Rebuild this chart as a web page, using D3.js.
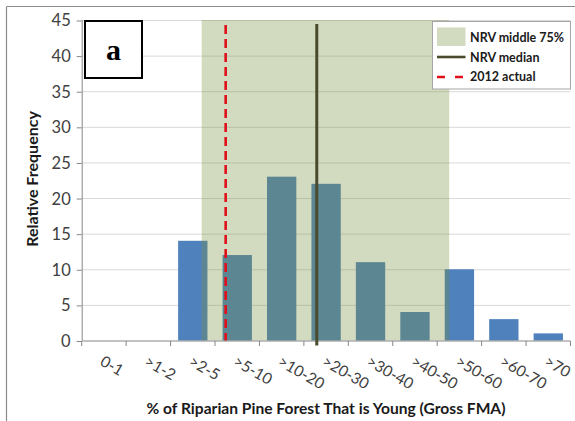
<!DOCTYPE html>
<html>
<head>
<meta charset="utf-8">
<script src="https://cdn.jsdelivr.net/npm/d3@7"></script>
<style>
  html, body { margin: 0; padding: 0; background: #fff; }
  svg { display: block; font-family: Lato, "Open Sans", sans-serif; }
</style>
</head>
<body>
<div id="chart"></div>
<script>
// Histogram categories (% of riparian pine forest that is young)
const categories = ["0-1", ">1-2", ">2-5", ">5-10", ">10-20", ">20-30", ">30-40", ">40-50", ">50-60", ">60-70", ">70"];
// Relative frequency of each class
const frequencies = [0, 0, 14, 12, 23, 22, 11, 4, 10, 3, 1];
// Y axis ticks
const yTicks = [0, 5, 10, 15, 20, 25, 30, 35, 40, 45];
// Reference markers, expressed in class-index units along the x axis
const nrvMiddle75 = [2.70, 8.27];
const nrvMedian = [5.29];
const actual2012 = [3.24];
// Legend entries
const legendItems = ["NRV middle 75%", "NRV median", "2012 actual"];

const W = 575, H = 421;
const margin = { left: 81.7, right: 4.5, top: 20, bottom: 80.5 };
const plotW = W - margin.left - margin.right;
const plotH = H - margin.top - margin.bottom;

const svg = d3.select("#chart").append("svg").attr("width", W).attr("height", H);

// outer frame (top and left edges)
svg.append("line").attr("x1", 6.5).attr("x2", W).attr("y1", 6.5).attr("y2", 6.5)
  .attr("stroke", "#8c8c8c").attr("stroke-width", 1.2);
svg.append("line").attr("x1", 6.5).attr("x2", 6.5).attr("y1", 6.5).attr("y2", H)
  .attr("stroke", "#8c8c8c").attr("stroke-width", 1.2);

const g = svg.append("g").attr("transform", `translate(${margin.left},${margin.top})`);

const x = d3.scaleBand().domain(categories).range([0, plotW]).paddingInner(0.34).paddingOuter(0.17);
const xPos = d3.scaleLinear().domain([0, categories.length]).range([0, plotW]);
const y = d3.scaleLinear().domain([0, 45]).range([plotH, 0]);

// gridlines
g.append("g").selectAll("line").data(yTicks.filter(d => d > 0)).join("line")
  .attr("x1", 0).attr("x2", plotW)
  .attr("y1", d => y(d) + 0.5).attr("y2", d => y(d) + 0.5)
  .attr("stroke", "#d9d9d9").attr("stroke-width", 1);

// bars
g.append("g").selectAll("rect").data(frequencies).join("rect")
  .attr("x", (d, i) => x(categories[i]))
  .attr("width", x.bandwidth())
  .attr("y", d => y(d))
  .attr("height", d => plotH - y(d))
  .attr("fill", "#4f81bd");

// NRV middle 75% band
g.append("rect")
  .attr("x", xPos(nrvMiddle75[0]))
  .attr("width", xPos(nrvMiddle75[1]) - xPos(nrvMiddle75[0]))
  .attr("y", y(45)).attr("height", plotH)
  .attr("fill", "#76923c").attr("fill-opacity", 0.33);

// y axis
const yAxis = g.append("g").call(d3.axisLeft(y).tickValues(yTicks).tickSize(5).tickPadding(6));
yAxis.select(".domain").attr("stroke", "#868686").attr("d", `M0.5,0V${plotH}`);
yAxis.selectAll(".tick line").attr("stroke", "#868686").attr("transform", "translate(0,0.5)");
yAxis.selectAll(".tick text").attr("font-size", 16.5).attr("fill", "#404040")
  .attr("font-family", "Lato, 'Open Sans', sans-serif").attr("dy", "0.36em");

// x axis with ticks at class boundaries
const xAxisG = g.append("g").attr("transform", `translate(0,${plotH})`);
xAxisG.append("line").attr("x1", 0).attr("x2", plotW).attr("y1", 0.5).attr("y2", 0.5)
  .attr("stroke", "#868686");
xAxisG.selectAll("line.tk").data(d3.range(categories.length + 1)).join("line").attr("class", "tk")
  .attr("x1", d => xPos(d)).attr("x2", d => xPos(d)).attr("y1", 0.5).attr("y2", 5.5)
  .attr("stroke", "#868686");
xAxisG.selectAll("text").data(categories).join("text")
  .attr("transform", d => `translate(${x(d) + x.bandwidth() / 2 - 5},${24}) rotate(30)`)
  .attr("font-size", 15.5).attr("fill", "#404040")
  .text(d => d);

// median line
g.selectAll("line.median").data(nrvMedian).join("line").attr("class", "median")
  .attr("x1", d => xPos(d)).attr("x2", d => xPos(d))
  .attr("y1", 4).attr("y2", plotH + 5)
  .attr("stroke", "#4a4a2e").attr("stroke-width", 3);

// 2012 actual line
g.selectAll("line.actual").data(actual2012).join("line").attr("class", "actual")
  .attr("x1", d => xPos(d)).attr("x2", d => xPos(d))
  .attr("y1", 5).attr("y2", plotH)
  .attr("stroke", "#e0101a").attr("stroke-width", 2.6).attr("stroke-dasharray", "9,5");

// panel letter
svg.append("rect").attr("x", 85).attr("y", 21).attr("width", 57).attr("height", 57)
  .attr("fill", "#fff").attr("stroke", "#000").attr("stroke-width", 2);
svg.append("text").attr("x", 113.5).attr("y", 60).attr("text-anchor", "middle")
  .attr("font-family", "'Liberation Serif', 'DejaVu Serif', serif").attr("font-weight", "bold")
  .attr("font-size", 30).text("a");

// legend
const lg = svg.append("g");
lg.append("rect").attr("x", 432.5).attr("y", 21.5).attr("width", 138).attr("height", 67.5)
  .attr("fill", "#fff").attr("stroke", "#a6a6a6").attr("stroke-width", 1);
lg.append("rect").attr("x", 437).attr("y", 27.5).attr("width", 28.5).attr("height", 18.5)
  .attr("fill", "#76923c").attr("fill-opacity", 0.33);
lg.append("line").attr("x1", 437).attr("x2", 465.5).attr("y1", 57).attr("y2", 57)
  .attr("stroke", "#4a4a2e").attr("stroke-width", 2.6);
lg.append("line").attr("x1", 437).attr("x2", 465.5).attr("y1", 77).attr("y2", 77)
  .attr("stroke", "#e0101a").attr("stroke-width", 2.6).attr("stroke-dasharray", "8,10");
lg.selectAll("text").data(legendItems).join("text")
  .attr("x", 470).attr("y", (d, i) => 37.5 + i * 19.7).attr("dy", "0.35em")
  .attr("font-size", 12.5).attr("font-weight", "bold").attr("fill", "#1a1a1a")
  .text(d => d);

// axis titles
svg.append("text").attr("transform", `translate(38,179) rotate(-90)`).attr("text-anchor", "middle")
  .attr("font-size", 16).attr("font-weight", "bold").attr("fill", "#1a1a1a").text("Relative Frequency");
svg.append("text").attr("x", 326).attr("y", 414).attr("text-anchor", "middle")
  .attr("font-size", 15.6).attr("font-weight", "bold").attr("fill", "#1a1a1a")
  .text("% of Riparian Pine Forest That is Young (Gross FMA)");
</script>
</body>
</html>
